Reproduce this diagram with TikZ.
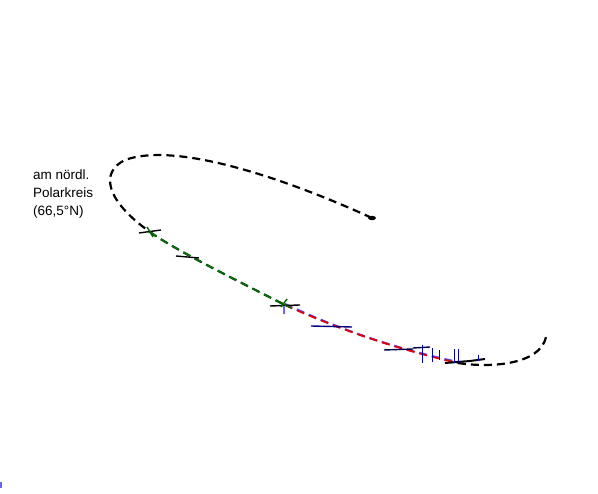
\documentclass[tikz,border=0pt]{standalone}
\usepackage{fontspec}
\setmainfont{Liberation Sans}
\begin{document}
\begin{tikzpicture}[x=1pt,y=-1pt,
  track/.style={line width=2.2pt,dash pattern=on 8pt off 5pt},
  tick/.style={line width=1.4pt},
  btick/.style={line width=1pt,color=blue!75!black},
  lbl/.style={font=\fontsize{13.5}{18}\selectfont,align=left,anchor=north west,inner sep=0pt}]
\useasboundingbox (0,0) rectangle (598,494);
% key points
\coordinate (s) at (372,218);
\coordinate (g1) at (150,232);
\coordinate (g2) at (186,257);
\coordinate (r1) at (285,305);
\coordinate (r2) at (330,326);
\coordinate (r3) at (405,349);
\coordinate (r4) at (458,363);
\coordinate (e) at (546,337);
% black part
\draw[track] (s) .. controls (300,185) and (180,140) .. (125,160)
  .. controls (100,172) and (105,200) .. (g1);
\fill (s) ellipse (4 and 2.2);
% green part
\draw[track,black!80!green!60!black] (g1) .. controls (175,250) and (240,282) .. (r1);
\draw[line width=1.3pt,dash pattern=on 8pt off 5pt,green!50!black] (g1) .. controls (175,250) and (240,282) .. (r1);
% red part
\draw[track,blue!70] ([yshift=1]r1) .. controls (340,330) and (400,350) .. ([yshift=1]r4);
\draw[line width=1.8pt,dash pattern=on 8pt off 5pt,red!90!black] (r1) .. controls (340,330) and (400,350) .. (r4);
% black end
\draw[track] (r4) .. controls (490,368) and (540,365) .. (e);
\draw[line width=2pt] (445,363) -- (470,361) -- (485,359);
% ticks
\draw[tick] (139,233) -- (161,230);
\draw[tick,green!40!black] (147,227) -- (153,237);
\draw[tick] (176,256) -- (199,258);
\draw[tick] (270,306) -- (300,305);
\draw[tick,green!40!black] (279,302) -- (291,308) (287,299) -- (281,307);
\draw[line width=1.5pt,blue!60] (284,306) -- (284,314);
\draw[tick,blue!50!black] (311,326) -- (352,327);
\draw[tick,blue!30!black] (384,350) -- (413,349);
\draw[tick,blue!30!black] (413,348) -- (430,347);
\draw[btick] (422,345) -- (422,363);
\draw[btick] (432,348) -- (432,362);
\draw[btick] (439,350) -- (439,360);
\draw[btick] (454,349) -- (454,363);
\draw[btick] (458,349) -- (458,362);
\draw[btick] (478,355) -- (478,361);
\draw[line width=1.5pt,blue!60] (1,482) -- (1,488);
% label
\node[lbl] (t) at (33,170) {am nördl.\\Polarkreis\\(66,5°N)};
\end{tikzpicture}
\end{document}
